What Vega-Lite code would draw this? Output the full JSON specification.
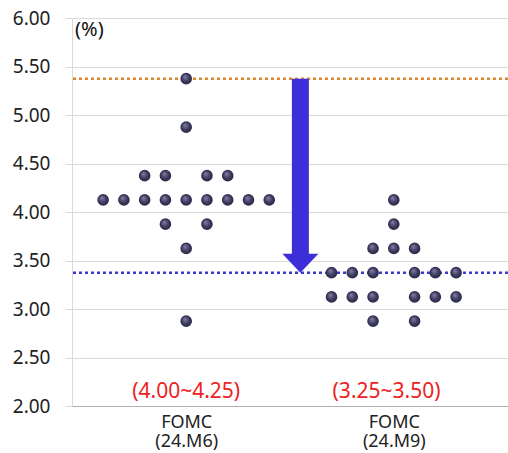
{
  "$schema": "https://vega.github.io/schema/vega-lite/v6.json",
  "width": 436,
  "height": 388,
  "autosize": {"type": "none"},
  "padding": {"left": 72, "top": 18, "right": 0, "bottom": 47},
  "background": "white",
  "config": {
    "view": {"stroke": null},
    "font": "Noto Sans"
  },
  "layer": [
    {
      "data": {"values": [
        {"line": "before", "rate": 5.375},
        {"line": "after", "rate": 3.375}
      ]},
      "mark": {"type": "rule", "strokeWidth": 2.5, "strokeDash": [3, 3]},
      "encoding": {
        "y": {
          "field": "rate", "type": "quantitative",
          "scale": {"domain": [2, 6], "nice": false, "zero": false},
          "axis": {
            "title": null,
            "values": [2, 2.5, 3, 3.5, 4, 4.5, 5, 5.5, 6],
            "format": ".2f",
            "grid": true,
            "gridColor": "#d9d9d9",
            "domainColor": "#d9d9d9",
            "tickColor": "#d9d9d9",
            "tickSize": 7,
            "labelPadding": 15,
            "labelFontSize": 19,
            "labelColor": "#222222",
            "labelFont": "Noto Sans"
          }
        },
        "color": {
          "field": "line", "type": "nominal",
          "scale": {"domain": ["before", "after"], "range": ["#e0852e", "#3b39cf"]},
          "legend": null
        }
      }
    },
    {
      "data": {"values": [
        {"meeting": "24.M6", "slot": 5.5, "rate": 5.375},
        {"meeting": "24.M6", "slot": 5.5, "rate": 4.875},
        {"meeting": "24.M6", "slot": 3.5, "rate": 4.375},
        {"meeting": "24.M6", "slot": 4.5, "rate": 4.375},
        {"meeting": "24.M6", "slot": 6.5, "rate": 4.375},
        {"meeting": "24.M6", "slot": 7.5, "rate": 4.375},
        {"meeting": "24.M6", "slot": 1.5, "rate": 4.125},
        {"meeting": "24.M6", "slot": 2.5, "rate": 4.125},
        {"meeting": "24.M6", "slot": 3.5, "rate": 4.125},
        {"meeting": "24.M6", "slot": 4.5, "rate": 4.125},
        {"meeting": "24.M6", "slot": 5.5, "rate": 4.125},
        {"meeting": "24.M6", "slot": 6.5, "rate": 4.125},
        {"meeting": "24.M6", "slot": 7.5, "rate": 4.125},
        {"meeting": "24.M6", "slot": 8.5, "rate": 4.125},
        {"meeting": "24.M6", "slot": 9.5, "rate": 4.125},
        {"meeting": "24.M6", "slot": 4.5, "rate": 3.875},
        {"meeting": "24.M6", "slot": 6.5, "rate": 3.875},
        {"meeting": "24.M6", "slot": 5.5, "rate": 3.625},
        {"meeting": "24.M6", "slot": 5.5, "rate": 2.875},
        {"meeting": "24.M9", "slot": 15.5, "rate": 4.125},
        {"meeting": "24.M9", "slot": 15.5, "rate": 3.875},
        {"meeting": "24.M9", "slot": 14.5, "rate": 3.625},
        {"meeting": "24.M9", "slot": 15.5, "rate": 3.625},
        {"meeting": "24.M9", "slot": 16.5, "rate": 3.625},
        {"meeting": "24.M9", "slot": 12.5, "rate": 3.375},
        {"meeting": "24.M9", "slot": 13.5, "rate": 3.375},
        {"meeting": "24.M9", "slot": 14.5, "rate": 3.375},
        {"meeting": "24.M9", "slot": 16.5, "rate": 3.375},
        {"meeting": "24.M9", "slot": 17.5, "rate": 3.375},
        {"meeting": "24.M9", "slot": 18.5, "rate": 3.375},
        {"meeting": "24.M9", "slot": 12.5, "rate": 3.125},
        {"meeting": "24.M9", "slot": 13.5, "rate": 3.125},
        {"meeting": "24.M9", "slot": 14.5, "rate": 3.125},
        {"meeting": "24.M9", "slot": 16.5, "rate": 3.125},
        {"meeting": "24.M9", "slot": 17.5, "rate": 3.125},
        {"meeting": "24.M9", "slot": 18.5, "rate": 3.125},
        {"meeting": "24.M9", "slot": 14.5, "rate": 2.875},
        {"meeting": "24.M9", "slot": 16.5, "rate": 2.875}
      ]},
      "mark": {
        "type": "point", "filled": true, "size": 135, "opacity": 1,
        "color": {
          "gradient": "radial",
          "x1": 0.38, "y1": 0.32, "r1": 0,
          "x2": 0.5, "y2": 0.5, "r2": 0.55,
          "stops": [
            {"offset": 0, "color": "#8483a8"},
            {"offset": 0.6, "color": "#3c3a5e"},
            {"offset": 1, "color": "#27253f"}
          ]
        }
      },
      "encoding": {
        "x": {
          "field": "slot", "type": "quantitative",
          "scale": {"domain": [0, 21], "nice": false, "zero": false},
          "axis": {
            "title": null,
            "values": [5.5, 15.5],
            "labelExpr": "datum.value < 10 ? ['FOMC', '(24.M6)'] : ['FOMC', '(24.M9)']",
            "grid": false,
            "ticks": false,
            "domainColor": "#b0b0b0",
            "labelPadding": 7,
            "labelFontSize": 18,
            "labelLineHeight": 19,
            "labelColor": "#222222",
            "labelFont": "Noto Sans"
          }
        },
        "y": {"field": "rate", "type": "quantitative"}
      }
    },
    {
      "data": {"values": [{"slot": 11, "from": 5.375, "to": 3.47}]},
      "mark": {"type": "rule", "strokeWidth": 17, "strokeCap": "butt", "color": "#3d2fd8"},
      "encoding": {
        "x": {"field": "slot", "type": "quantitative"},
        "y": {"field": "from", "type": "quantitative"},
        "y2": {"field": "to"}
      }
    },
    {
      "data": {"values": [{"slot": 11, "tip": 3.375}]},
      "mark": {
        "type": "point", "filled": true, "opacity": 1, "size": 1300,
        "shape": "M-1,-1.05L1,-1.05L0,0Z",
        "color": "#3d2fd8"
      },
      "encoding": {
        "x": {"field": "slot", "type": "quantitative"},
        "y": {"field": "tip", "type": "quantitative"}
      }
    },
    {
      "data": {"values": [
        {"slot": 5.5, "rate": 2.14, "range": "(4.00~4.25)"},
        {"slot": 15.15, "rate": 2.14, "range": "(3.25~3.50)"}
      ]},
      "mark": {"type": "text", "fontSize": 21, "color": "#ee2222", "baseline": "middle", "align": "center"},
      "encoding": {
        "x": {"field": "slot", "type": "quantitative"},
        "y": {"field": "rate", "type": "quantitative"},
        "text": {"field": "range"}
      }
    },
    {
      "data": {"values": [{"slot": 0.15, "rate": 5.875, "unit": "(%)"}]},
      "mark": {"type": "text", "fontSize": 20, "color": "#111111", "baseline": "middle", "align": "left"},
      "encoding": {
        "x": {"field": "slot", "type": "quantitative"},
        "y": {"field": "rate", "type": "quantitative"},
        "text": {"field": "unit"}
      }
    }
  ]
}
